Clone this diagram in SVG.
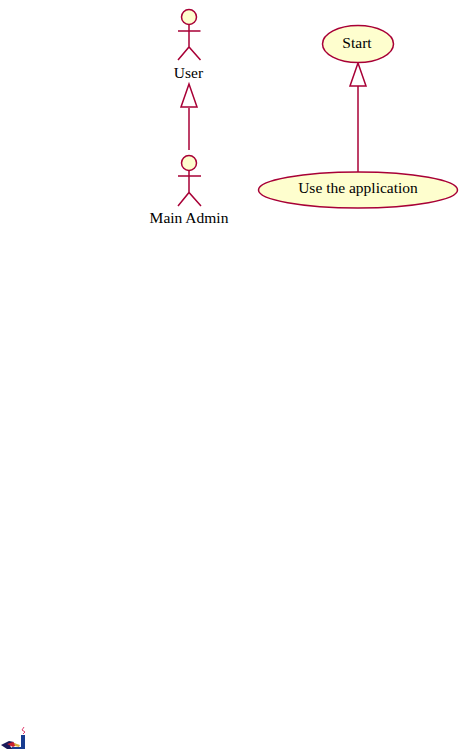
<svg xmlns="http://www.w3.org/2000/svg" width="462" height="750" viewBox="0 0 462 750">
<style>
.s{stroke:#a80036;stroke-width:1.5;fill:none}
.f{stroke:#a80036;stroke-width:1.5;fill:#fefece}
.a{stroke:#a80036;stroke-width:1.5;fill:#fff}
text{font-family:"Liberation Serif",serif;font-size:15.500px;fill:#000;text-anchor:middle}
</style>
<rect width="462" height="750" fill="#fff"/>
<g id="connectors">
<line class="s" x1="189" y1="108" x2="189" y2="150"/>
<polygon class="a" points="189,84 181,107 197,107"/>
<line class="s" x1="358" y1="86" x2="358" y2="172"/>
<polygon class="a" points="358,63 350,86 366,86"/>
</g>
<g id="user">
<circle class="f" cx="189" cy="17" r="7.500"/>
<path class="s" d="M189 24.500V47M178 31H200.500M178 60L189 47L200.500 60"/>
<text x="188.500" y="78">User</text>
</g>
<g id="main-admin">
<circle class="f" cx="189" cy="163" r="7.500"/>
<path class="s" d="M189 170.500V192.500M178 176H201M178 206L189 192.500L201 206"/>
<text x="189" y="223">Main Admin</text>
</g>
<g id="start">
<ellipse class="f" cx="358" cy="44" rx="35.500" ry="18.500"/>
<text x="357" y="48">Start</text>
</g>
<g id="use-the-application">
<ellipse class="f" cx="358" cy="190" rx="99.500" ry="18"/>
<text x="358" y="193">Use the application</text>
</g>
<g id="logo">
<path d="M1 745L9 741L14 742L10 746L13 749H7Z" fill="#1a1a5a"/>
<path d="M7 744L13 742L17 745L13 747Z" fill="#c82030"/>
<path d="M14 743L20 745L19 747L15 746Z" fill="#d8b040"/>
<path d="M21 735H25V749H12V747H21Z" fill="#183c90"/>
<path d="M24 727L22 730L25 732L23 734" stroke="#e04070" stroke-width="1" fill="none"/>
</g>
</svg>
